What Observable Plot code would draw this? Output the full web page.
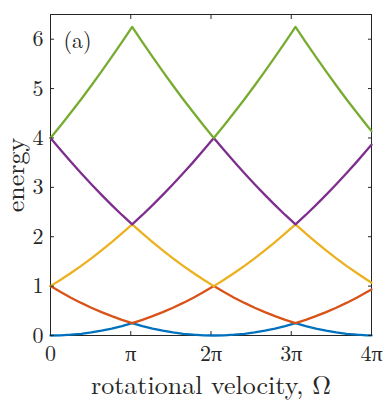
<!DOCTYPE html>
<html><head><meta charset="utf-8">
<script src="https://cdn.jsdelivr.net/npm/d3@7"></script>
<script src="https://cdn.jsdelivr.net/npm/@observablehq/plot@0.6"></script>
<style>body{margin:0;background:#fff}</style>
</head><body><div id="chart"></div>
<script>
// rotational velocity in units of π
const omega = [0, 0.127, 0.254, 0.382, 0.509, 0.636, 0.763, 0.890, 1.018, 1.145, 1.272, 1.399, 1.526, 1.653, 1.781, 1.908, 2.035, 2.162, 2.289, 2.417, 2.544, 2.671, 2.798, 2.925, 3.053, 3.180, 3.307, 3.434, 3.561, 3.688, 3.816, 3.943, 4.0];
const band1 = [0, .004, .016, .035, .063, .098, .141, .191, .25, .191, .141, .098, .063, .035, .016, .004, 0, .004, .016, .035, .063, .098, .141, .191, .25, .191, .141, .098, .063, .035, .016, .004, .001];
const band2 = [1, .879, .766, .660, .563, .473, .391, .316, .25, .316, .391, .473, .563, .660, .766, .879, 1, .879, .766, .660, .563, .473, .391, .316, .25, .316, .391, .473, .563, .660, .766, .879, .932];
const band3 = [1, 1.129, 1.266, 1.410, 1.563, 1.723, 1.891, 2.066, 2.25, 2.066, 1.891, 1.723, 1.563, 1.410, 1.266, 1.129, 1, 1.129, 1.266, 1.410, 1.563, 1.723, 1.891, 2.066, 2.25, 2.066, 1.891, 1.723, 1.563, 1.410, 1.266, 1.129, 1.070];
const band4 = [4, 3.754, 3.516, 3.285, 3.063, 2.848, 2.641, 2.441, 2.25, 2.441, 2.641, 2.848, 3.063, 3.285, 3.516, 3.754, 4, 3.754, 3.516, 3.285, 3.063, 2.848, 2.641, 2.441, 2.25, 2.441, 2.641, 2.848, 3.063, 3.285, 3.516, 3.754, 3.864];
const band5 = [4, 4.254, 4.516, 4.785, 5.063, 5.348, 5.641, 5.941, 6.25, 5.941, 5.641, 5.348, 5.063, 4.785, 4.516, 4.254, 4, 4.254, 4.516, 4.785, 5.063, 5.348, 5.641, 5.941, 6.25, 5.941, 5.641, 5.348, 5.063, 4.785, 4.516, 4.254, 4.139];
const bandNames = ["band 1", "band 2", "band 3", "band 4", "band 5"];
const bandColors = ["#0072BD", "#D95319", "#EDB120", "#7E2F8E", "#77AC30"];
const xTicks = [0, 1, 2, 3, 4];
const xTickLabels = ["0", "π", "2π", "3π", "4π"];
const yTicks = [0, 1, 2, 3, 4, 5, 6];
const xLabel = "rotational velocity, Ω";
const yLabel = "energy";
const panelLabel = "(a)";

const bands = [band1, band2, band3, band4, band5];
const rows = bands.flatMap((b, i) => b.map((e, j) => ({omega: omega[j], energy: e, band: bandNames[i]})));

const ink = "#262626";
const fam = "Latin Modern Roman, Liberation Serif, serif";
const chart = Plot.plot({
  width: 390, height: 404,
  marginLeft: 50, marginRight: 19, marginTop: 14, marginBottom: 69,
  x: {domain: [0, 4]},
  y: {domain: [0, 6.5]},
  color: {domain: bandNames, range: bandColors},
  style: {fontFamily: fam, fontSize: "22px", color: ink, background: "#fff"},
  marks: [
    Plot.frame({stroke: ink, strokeWidth: 1}),
    Plot.line(rows, {x: "omega", y: "energy", z: "band", stroke: "band", strokeWidth: 2.3}),
    Plot.axisX(xTicks, {anchor: "bottom", tickSize: -4, tickPadding: 14, label: null, tickFormat: d => xTickLabels[xTicks.indexOf(d)], fontSize: 22}),
    Plot.axisX(xTicks, {anchor: "top", tickSize: -4, label: null, tickFormat: () => ""}),
    Plot.axisY(yTicks, {anchor: "left", tickSize: -4, tickPadding: 11, label: null, fontSize: 22}),
    Plot.axisY(yTicks, {anchor: "right", tickSize: -4, label: null, tickFormat: () => ""}),
    Plot.text([yLabel], {frameAnchor: "left", textAnchor: "middle", lineAnchor: "middle", rotate: -90, dx: -35, fontSize: 26, fill: ink}),
    Plot.text([xLabel], {frameAnchor: "bottom", textAnchor: "middle", lineAnchor: "middle", dy: 50, fontSize: 26, fill: ink}),
    Plot.text([panelLabel], {frameAnchor: "top-left", textAnchor: "start", lineAnchor: "middle", dx: 13, dy: 26, fontSize: 22, fill: ink})
  ]
});
chart.setAttribute("font-family", fam);
chart.querySelectorAll("text, g").forEach(el => { el.setAttribute("font-family", fam); });
chart.querySelectorAll("text").forEach(el => { el.style.fontFamily = fam; });
document.getElementById("chart").appendChild(chart);
</script>
</body></html>
